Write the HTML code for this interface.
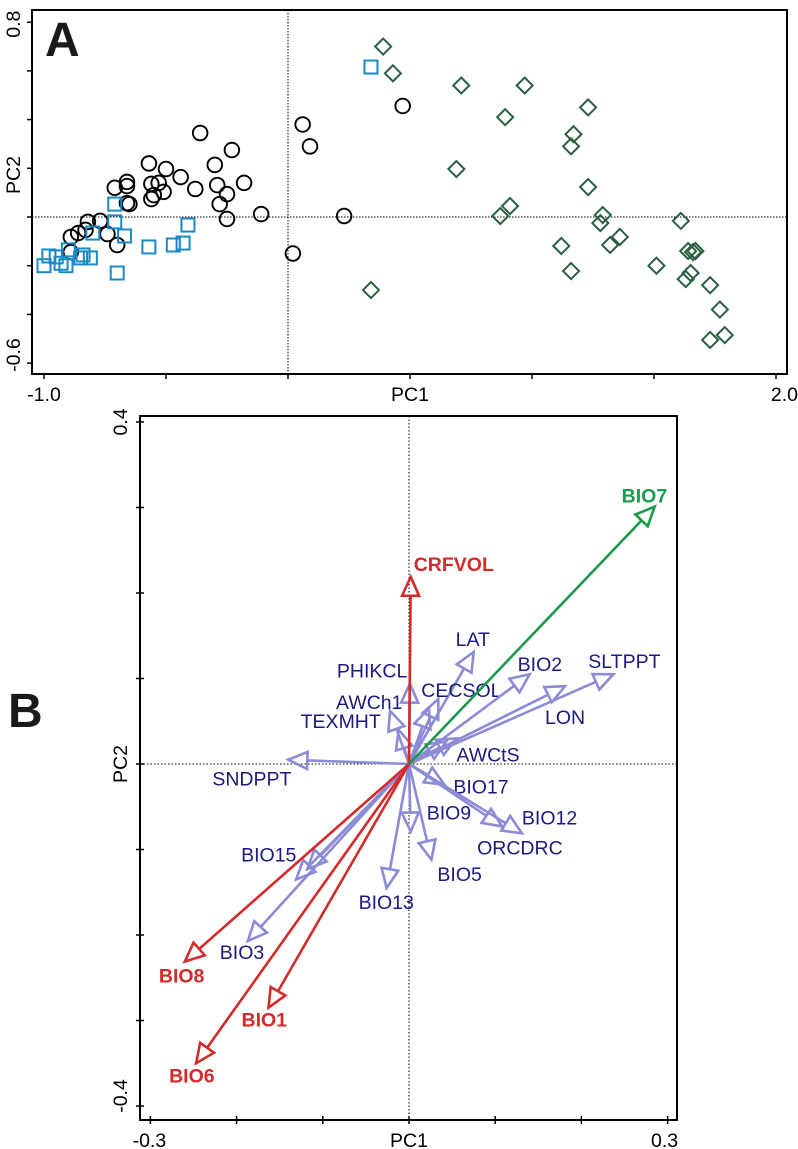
<!DOCTYPE html>
<html><head><meta charset="utf-8"><style>
html,body{margin:0;padding:0;background:#fff;}
svg{display:block;font-family:"Liberation Sans",Arial,sans-serif;}
</style></head><body>
<svg id="chart" width="798" height="1149" viewBox="0 0 798 1149" xmlns="http://www.w3.org/2000/svg">
<g id="panelA"></g>
<g id="panelB"></g>
</svg>
<script>
// ---------- Panel A data (PC1, PC2 scores) ----------
const circlesX = [-0.36,-0.23,-0.57,-0.50,-0.44,-0.30,-0.18,-0.71,-0.66,-0.66,-0.56,-0.53,-0.38,-0.29,-0.25,-0.55,-0.51,-0.56,-0.66,-0.65,-0.28,-0.25,-0.11,0.23,0.06,0.09,0.02,0.47,-0.82,-0.77,-0.74,-0.70,-0.89,-0.89,-0.86,-0.83];
const circlesY = [0.345,0.275,0.22,0.197,0.164,0.214,0.14,0.12,0.144,0.127,0.136,0.14,0.115,0.131,0.094,0.09,0.103,0.074,0.057,0.053,0.053,-0.008,0.012,0.004,0.38,0.29,-0.15,0.456,-0.02,-0.016,-0.07,-0.115,-0.144,-0.082,-0.066,-0.053];
const squaresX = [0.34,-0.71,-0.71,-0.80,-0.67,-0.41,-0.57,-0.47,-0.43,-0.70,-1.00,-0.98,-0.95,-0.91,-0.90,-0.85,-0.81,-0.84,-0.93];
const squaresY = [0.616,0.053,-0.02,-0.066,-0.078,-0.033,-0.123,-0.115,-0.107,-0.23,-0.20,-0.16,-0.164,-0.20,-0.135,-0.168,-0.168,-0.156,-0.19];
const diamondsX = [0.39,0.43,0.34,0.71,0.97,0.89,1.23,1.17,1.16,0.69,1.23,0.91,0.87,1.29,1.28,1.36,1.32,1.12,1.16,1.61,1.64,1.66,1.67,1.51,1.65,1.63,1.73,1.77,1.73,1.79];
const diamondsY = [0.70,0.59,-0.30,0.54,0.54,0.41,0.45,0.34,0.29,0.197,0.123,0.045,0.004,0.008,-0.025,-0.082,-0.115,-0.119,-0.222,-0.016,-0.14,-0.144,-0.14,-0.20,-0.23,-0.255,-0.28,-0.38,-0.505,-0.485];
const aXTicks = [-1.0,-0.5,0,0.5,1.0,1.5,2.0];
const aXLabels = ["-1.0","PC1","2.0"];
const aYTicks = [0.8,0.6,0.4,0.2,0,-0.2,-0.4,-0.6];
const aYLabels = ["0.8","PC2","-0.6"];

// ---------- Panel B data (loadings) ----------
const varNames = ["BIO7","CRFVOL","LAT","PHIKCL","CECSOL","CECSOL-b","BIO2","SLTPPT","LON","AWCh1","TEXMHT","AWCtS","AWCtS-b","SNDPPT","BIO17","ORCDRC","BIO12","BIO9","BIO5","BIO13","BIO15","BIO15-b","BIO3","BIO8","BIO1","BIO6"];
const varPC1 = [0.285,0.002,0.075,0.001,0.034,0.023,0.14,0.237,0.181,-0.022,-0.012,0.055,0.043,-0.14,0.041,0.108,0.131,0.002,0.026,-0.026,-0.131,-0.118,-0.187,-0.26,-0.163,-0.247];
const varPC2 = [0.301,0.219,0.131,0.094,0.076,0.065,0.105,0.105,0.091,0.062,0.04,0.030,0.026,0.005,-0.024,-0.073,-0.081,-0.079,-0.112,-0.145,-0.135,-0.123,-0.207,-0.231,-0.285,-0.35];
const varGroup = ["green","red","blue","blue","blue","blue","blue","blue","blue","blue","blue","blue","blue","blue","blue","blue","blue","blue","blue","blue","blue","blue","blue","red","red","red"];
const bXTicks = [-0.3,-0.2,-0.1,0,0.1,0.2,0.3];
const bYTicks = [0.4,0.3,0.2,0.1,0,-0.1,-0.2,-0.3,-0.4];

const NS = "http://www.w3.org/2000/svg";
function mk(parent, tag, attrs, text){
  const e = document.createElementNS(NS, tag);
  for (const k in attrs) e.setAttribute(k, attrs[k]);
  if (text !== undefined) e.textContent = text;
  parent.appendChild(e);
  return e;
}

// ===== Panel A =====
const A = document.getElementById('panelA');
const ax = v => 44 + (v + 1) * 244;
const ay = v => 217 - v * 243.5;
const aBox = mk(A, 'rect', {x:32, y:10, width:755, height:364, fill:'none', stroke:'#000', 'stroke-width':2});


const vz = mk(A, 'line', {x1:ax(0), x2:ax(0), y1:10, y2:374, stroke:'#000', 'stroke-width':1, 'stroke-dasharray':'1.5,1.5'});


const hz = mk(A, 'line', {x1:32, x2:787, y1:ay(0), y2:ay(0), stroke:'#000', 'stroke-width':1, 'stroke-dasharray':'1.5,1.5'});


aXTicks.forEach(t => {
  const l = mk(A, 'line', {x1:ax(t), x2:ax(t), y1:374, y2:379, stroke:'#000', 'stroke-width':1.5});
  
  
});
aYTicks.forEach(t => {
  const l = mk(A, 'line', {x1:27, x2:32, y1:ay(t), y2:ay(t), stroke:'#000', 'stroke-width':1.5});
  
  
});
const axl1 = mk(A, 'text', {x:ax(-1.0), y:401, 'font-size':19.5, 'text-anchor':'middle'}, aXLabels[0]);


const axl2 = mk(A, 'text', {x:ax(0.5), y:401, 'font-size':19.5, 'text-anchor':'middle'}, aXLabels[1]);


const axl3 = mk(A, 'text', {x:798, y:401, 'font-size':19.5, 'text-anchor':'end'}, aXLabels[2]);


[[ay(0.8)+2, aYLabels[0], 'y-tick-label-max'], [175, aYLabels[1], 'y-axis-title'], [ay(-0.6)-8, aYLabels[2], 'y-tick-label-min']].forEach(([yy, s, n]) => {
  const t = mk(A, 'text', {x:0, y:0, 'font-size':19.5, 'text-anchor':'middle', transform:`translate(20,${yy}) rotate(-90)`}, s);
  
  
});
const la = mk(A, 'text', {x:45, y:56, 'font-size':48, 'font-weight':'bold', fill:'#1a1a1a'}, 'A');



circlesX.forEach((v, i) => {
  const c = mk(A, 'circle', {cx:ax(v), cy:ay(circlesY[i]), r:7.3, fill:'none', stroke:'#000', 'stroke-width':1.9});
  
  
});
squaresX.forEach((v, i) => {
  const s = mk(A, 'rect', {x:ax(v)-6.5, y:ay(squaresY[i])-6.5, width:13, height:13, fill:'none', stroke:'#1a8ac6', 'stroke-width':2});
  
  
});
diamondsX.forEach((v, i) => {
  const cx = ax(v), cy = ay(diamondsY[i]), d = 8;
  const p = mk(A, 'polygon', {points:`${cx},${cy-d} ${cx+d},${cy} ${cx},${cy+d} ${cx-d},${cy}`, fill:'none', stroke:'#2a6040', 'stroke-width':2});
  
  
});

// ===== Panel B =====
const B = document.getElementById('panelB');
const bx = v => 409 + v * 862;
const by = v => 764 - v * 855;
const bBox = mk(B, 'rect', {x:140, y:416, width:537, height:704, fill:'none', stroke:'#000', 'stroke-width':2});


const bvz = mk(B, 'line', {x1:bx(0), x2:bx(0), y1:416, y2:1120, stroke:'#000', 'stroke-width':1, 'stroke-dasharray':'1.5,2'});


const bhz = mk(B, 'line', {x1:140, x2:677, y1:by(0), y2:by(0), stroke:'#000', 'stroke-width':1, 'stroke-dasharray':'1.5,2'});


bXTicks.forEach(t => {
  const l = mk(B, 'line', {x1:bx(t), x2:bx(t), y1:1116, y2:1124, stroke:'#000', 'stroke-width':1.5});
  
  
});
bYTicks.forEach(t => {
  const l = mk(B, 'line', {x1:136, x2:144, y1:by(t), y2:by(t), stroke:'#000', 'stroke-width':1.5});
  
  
});
[[bx(-0.3)-1, '-0.3', 'x-tick-label-min'], [bx(0), 'PC1', 'x-axis-title'], [bx(0.3)-3, '0.3', 'x-tick-label-max']].forEach(([xx, s, n]) => {
  const t = mk(B, 'text', {x:xx, y:1147, 'font-size':19.5, 'text-anchor':'middle'}, s);
  
  
});
[[by(0.4), '0.4', 'y-tick-label-max'], [by(0), 'PC2', 'y-axis-title'], [by(-0.4)-10, '-0.4', 'y-tick-label-min']].forEach(([yy, s, n]) => {
  const t = mk(B, 'text', {x:0, y:0, 'font-size':19.5, 'text-anchor':'middle', transform:`translate(127,${yy}) rotate(-90)`}, s);
  
  
});
const lb = mk(B, 'text', {x:8, y:727, 'font-size':48, 'font-weight':'bold', fill:'#1a1a1a'}, 'B');



const colors = {blue:'#8b8bd6', red:'#d42a2a', green:'#1a9a4a'};
const textColors = {blue:'#1a1a80', red:'#d42a2a', green:'#1a9a4a'};
// label layout: pixel offsets (left, baseline) from arrow tip
const labelLayout = {
  "BIO7":[-33,-4],"CRFVOL":[3,-6],"LAT":[-18,-6],"PHIKCL":[-73,-6],"CECSOL":[-17,-2],
  "BIO2":[-12,-3],"SLTPPT":[-25,-6],"LON":[-20,38],"AWCh1":[-54,-2],"TEXMHT":[-98,-2],
  "AWCtS":[0,23],"SNDPPT":[-76,26],"BIO17":[9,9],"ORCDRC":[-25,28],"BIO12":[0,-9],
  "BIO9":[16,-12],"BIO5":[6,21],"BIO13":[-28,21],"BIO15":[-55,-18],"BIO3":[-28,18],
  "BIO8":[-26,21],"BIO1":[-27,19],"BIO6":[-27,19]
};
const ox = bx(0), oy = by(0);
const order = varNames.map((n,i)=>i).sort((a,b)=>{const r={blue:0,red:1,green:2};return r[varGroup[a]]-r[varGroup[b]];});
order.forEach(i => {
  const tx = bx(varPC1[i]), ty = by(varPC2[i]);
  const col = colors[varGroup[i]];
  const dx = tx - ox, dy = ty - oy, len = Math.hypot(dx, dy) || 1;
  const ux = dx/len, uy = dy/len, L = 19, W = 8.5;
  const bxp = tx - ux*L, byp = ty - uy*L;
  const g = mk(B, 'g', {});
  
  
  mk(g, 'line', {x1:ox, y1:oy, x2:bxp, y2:byp, stroke:col, 'stroke-width':2.6});
  mk(g, 'polygon', {points:`${tx},${ty} ${bxp-uy*W},${byp+ux*W} ${bxp+uy*W},${byp-ux*W}`, fill:'none', stroke:col, 'stroke-width':2.6, 'stroke-linejoin':'miter'});
  const off = labelLayout[varNames[i]];
  if (off) {
    const bold = varGroup[i] !== 'blue';
    const t = mk(B, 'text', {x:tx+off[0], y:ty+off[1], 'font-size':19.5, 'font-weight':bold?'bold':'normal', fill:textColors[varGroup[i]]}, varNames[i]);
    
    
  }
});
</script>
</body></html>
